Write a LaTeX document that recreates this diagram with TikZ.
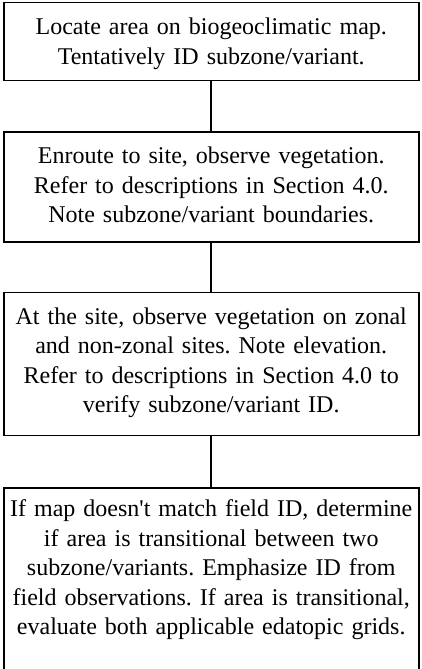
\documentclass[tikz,border=0pt]{standalone}
\usepackage{fontspec}
\setmainfont{Liberation Serif}[Ligatures=TeXOff]
\usetikzlibrary{positioning}

\begin{document}
\begin{tikzpicture}[
    stepbox/.style={draw, line width=1.5pt, text width=415pt, align=center, inner sep=0pt,
      text height=32pt, font=\fontsize{24}{29.5}\selectfont\frenchspacing},
    link/.style={line width=2pt},
  ]
    \useasboundingbox (0,0) rectangle (422pt,-669pt);
    \node[stepbox, text depth=45.5pt, anchor=north] (locate) at (211.25pt,-2pt)
      {Locate area on biogeoclimatic map.\\ Tentatively ID subzone/variant.};
    \node[stepbox, text depth=78pt, below=50pt of locate] (enroute)
      {Enroute to site, observe vegetation.\\ Refer to descriptions in Section 4.0.\\ Note subzone/variant boundaries.};
    \node[stepbox, text depth=111pt, below=49pt of enroute] (atsite)
      {At the site, observe vegetation on zonal\\ and non-zonal sites. Note elevation.\\ Refer to descriptions in Section 4.0 to\\ verify subzone/variant ID.};
    \node[stepbox, text height=29pt, text depth=153pt, below=51pt of atsite] (transit)
      {If map doesn't match field ID, determine\\ if area is transitional between two\\ subzone/variants. Emphasize ID from\\ field observations. If area is transitional,\\ evaluate both applicable edatopic grids.};

    \draw[link] (locate) -- (enroute);
    \draw[link] (enroute) -- (atsite);
    \draw[link] (atsite) -- (transit);
\end{tikzpicture}
\end{document}
